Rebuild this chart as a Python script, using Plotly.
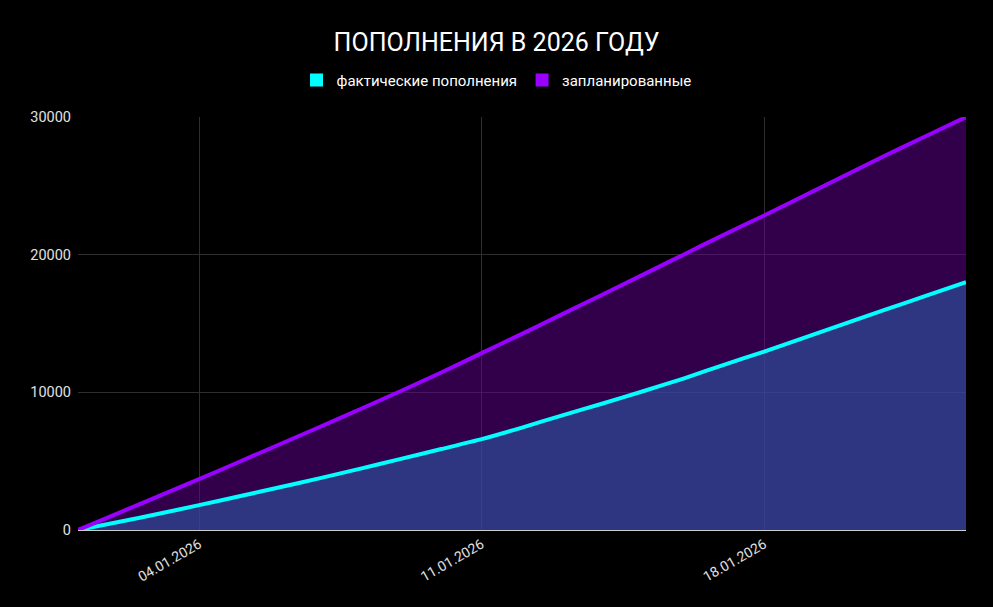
import plotly.graph_objects as go
import pandas as pd

dates = pd.date_range("2026-01-01", "2026-01-23", freq="D").strftime("%Y-%m-%d").tolist()
actual = [0, 580, 1180, 1810, 2450, 3100, 3770, 4460, 5170, 5880, 6600, 7440, 8330,
          9190, 10080, 11000, 12000, 12960, 13970, 14990, 16000, 17000, 18000]
planned = [0, 1230, 2460, 3690, 4960, 6230, 7500, 8790, 10100, 11440, 12850, 14250, 15680,
           17110, 18550, 20000, 21450, 22850, 24300, 25750, 27200, 28600, 30000]
series_names = ["фактические пополнения", "запланированные"]
tick_dates = ["2026-01-04", "2026-01-11", "2026-01-18"]
tick_labels = ["04.01.2026", "11.01.2026", "18.01.2026"]
y_ticks = [0, 10000, 20000, 30000]
title = "ПОПОЛНЕНИЯ В 2026 ГОДУ"

CYAN = "#00ffff"
PURPLE = "#9900ff"

fig = go.Figure()
fig.add_trace(go.Scatter(x=dates, y=actual, mode="lines",
                         line=dict(color=CYAN, width=4, shape="spline", smoothing=0.6),
                         fill="tozeroy", fillcolor="rgba(58,67,162,0.8)", showlegend=False,
                         name=series_names[0]))
fig.add_trace(go.Scatter(x=dates, y=planned, mode="lines",
                         line=dict(color=PURPLE, width=4, shape="spline", smoothing=0.6),
                         fill="tonexty", fillcolor="rgba(100,0,150,0.5)", showlegend=False,
                         name=series_names[1]))
# legend entries as squares
for nm, col in zip(series_names, [CYAN, PURPLE]):
    fig.add_trace(go.Scatter(x=[None], y=[None], mode="markers", name=nm,
                             marker=dict(symbol="square", size=13, color=col)))

fig.update_layout(
    width=993, height=607,
    paper_bgcolor="#000000", plot_bgcolor="#000000",
    margin=dict(l=78, r=27, t=117, b=77),
    font=dict(family="Roboto, Arial, sans-serif", color="#ffffff"),
    title=dict(text=title, x=0.5, xanchor="center", y=1 - 42 / 607, yanchor="middle",
               font=dict(size=25, color="#ffffff", family="Roboto, Arial, sans-serif")),
    legend=dict(orientation="h", x=0.4713, xanchor="center",
                y=1.089, yanchor="middle", traceorder="normal",
                font=dict(size=15, color="#ffffff"), itemwidth=30, bgcolor="rgba(0,0,0,0)"),
    showlegend=True,
)
fig.update_xaxes(range=[dates[0], dates[-1]], tickvals=tick_dates, ticktext=tick_labels,
                 tickangle=-30, tickfont=dict(size=14, color="#e0e0e0"),
                 showgrid=True, gridcolor="#2e2e2e", gridwidth=1,
                 showline=True, linecolor="#cccccc", linewidth=1, zeroline=False, ticks="")
fig.update_yaxes(range=[0, 30000], tickvals=y_ticks, tickformat="d",
                 tickfont=dict(size=14.5, color="#e0e0e0"), ticklabelstandoff=6,
                 showgrid=True, gridcolor="#2e2e2e", gridwidth=1, zeroline=False,
                 showline=False, ticks="", ticklen=0)

fig.write_html("out.html", config={"displayModeBar": False},
               post_script="document.body.style.margin='0';")
